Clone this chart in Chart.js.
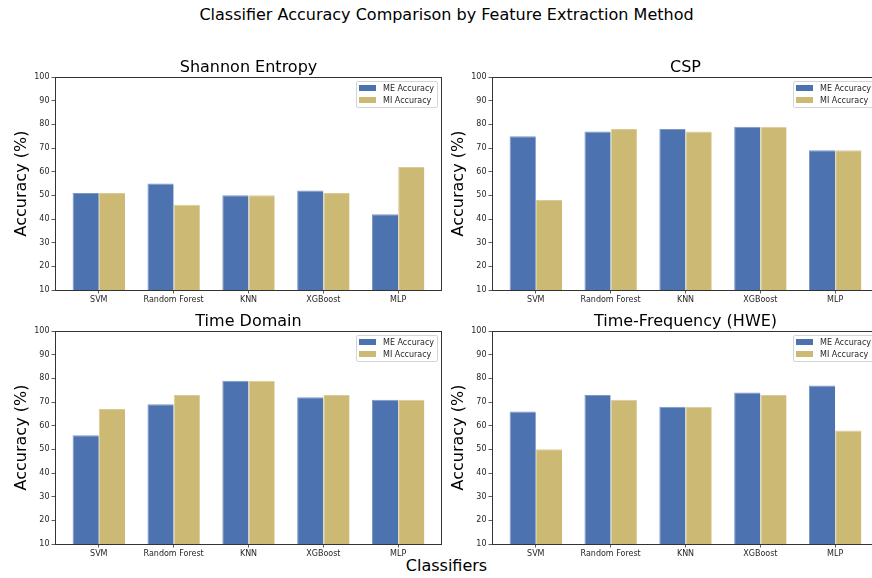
<!DOCTYPE html>
<html>
<head>
<meta charset="utf-8">
<script src="https://cdn.jsdelivr.net/npm/chart.js@4"></script>
<style>
  html, body { margin: 0; padding: 0; background: #fff; overflow: hidden; }
  body { width: 872px; height: 578px; position: relative; font-family: "DejaVu Sans", sans-serif; color: #000; }
  canvas { position: absolute; }
  .txt { position: absolute; text-align: center; font-size: 16px; line-height: 20px; white-space: nowrap; }
  .legend { position: absolute; width: 80px; height: 25px; border: 1px solid #d5d5d5; border-radius: 2px; background: rgba(255,255,255,0.8); font-size: 8px; }
  .legend .row { position: absolute; left: 2px; height: 10px; line-height: 10px; white-space: nowrap; color: #262626; }
  .legend .sw { display: inline-block; width: 17px; height: 6px; margin-right: 7px; vertical-align: middle; position: relative; top: -1px; }
</style>
</head>
<body>
<div class="txt" style="left:0; width:893px; top:5px;">Classifier Accuracy Comparison by Feature Extraction Method</div>
<div class="txt" style="left:0; width:893px; top:556px;">Classifiers</div>

<script>
// Classifiers compared in every panel
const classifiers = ['SVM', 'Random Forest', 'KNN', 'XGBoost', 'MLP'];

// Accuracy (%) for motor execution (ME) and motor imagery (MI)
const entropyME = [51, 55, 50, 52, 42];
const entropyMI = [51, 46, 50, 51, 62];

const cspME = [75, 77, 78, 79, 69];
const cspMI = [48, 78, 77, 79, 69];

const timeME = [56, 69, 79, 72, 71];
const timeMI = [67, 73, 79, 73, 71];

const hweME = [66, 73, 68, 74, 77];
const hweMI = [50, 71, 68, 73, 58];

const yTicks = [10, 20, 30, 40, 50, 60, 70, 80, 90, 100];

const seriesNames = ['ME Accuracy', 'MI Accuracy'];
const seriesColors = ['#4c72b0', '#ccb974'];
const edgeColors = ['#7d98c6', '#d9cb98'];

const panels = [
  { title: 'Shannon Entropy', me: entropyME, mi: entropyMI, left: 0, top: 60 },
  { title: 'CSP', me: cspME, mi: cspMI, left: 437, top: 60 },
  { title: 'Time Domain', me: timeME, mi: timeMI, left: 0, top: 314 },
  { title: 'Time-Frequency (HWE)', me: hweME, mi: hweMI, left: 437, top: 314 }
];

const AXIS_W = 55, PLOT_W = 387, PAD_TOP = 17, PLOT_H = 213, XAXIS_H = 22;
const tickFont = { family: 'DejaVu Sans', size: 8 };

// Full box around the plot area
const framePlugin = {
  id: 'frame',
  afterDraw(chart) {
    const a = chart.chartArea, ctx = chart.ctx;
    ctx.save();
    ctx.strokeStyle = '#333';
    ctx.lineWidth = 1;
    ctx.strokeRect(Math.round(a.left) + 0.5, Math.round(a.top) + 0.5,
                   Math.round(a.right - a.left) - 1, Math.round(a.bottom - a.top));
    ctx.restore();
  }
};

const toPoints = vals => vals.map((v, i) => ({ x: i, y: v }));

panels.forEach(p => {
  const cv = document.createElement('canvas');
  const w = AXIS_W + PLOT_W, h = PAD_TOP + PLOT_H + XAXIS_H;
  cv.width = w; cv.height = h;
  cv.style.left = p.left + 'px'; cv.style.top = p.top + 'px';
  cv.style.width = w + 'px'; cv.style.height = h + 'px';
  document.body.appendChild(cv);

  // panel title
  const t = document.createElement('div');
  t.className = 'txt';
  t.style.left = (p.left + AXIS_W) + 'px';
  t.style.width = PLOT_W + 'px';
  t.style.top = (p.top - 3) + 'px';
  t.textContent = p.title;
  document.body.appendChild(t);

  // legend in the upper right of the plot
  const lg = document.createElement('div');
  lg.className = 'legend';
  lg.style.left = (p.left + AXIS_W + PLOT_W - 86) + 'px';
  lg.style.top = (p.top + PAD_TOP + 4) + 'px';
  seriesNames.forEach((name, k) => {
    const r = document.createElement('div');
    r.className = 'row';
    r.style.top = (2 + k * 12.4) + 'px';
    const sw = document.createElement('span');
    sw.className = 'sw';
    sw.style.background = seriesColors[k];
    r.appendChild(sw);
    r.appendChild(document.createTextNode(name));
    lg.appendChild(r);
  });
  document.body.appendChild(lg);

  new Chart(cv, {
    type: 'bar',
    data: {
      datasets: [p.me, p.mi].map((vals, k) => ({
        label: seriesNames[k],
        data: toPoints(vals),
        backgroundColor: seriesColors[k],
        borderColor: edgeColors[k],
        borderWidth: { top: 1, left: 1, right: 0, bottom: 0 },
        borderSkipped: false,
        categoryPercentage: 0.7,
        barPercentage: 1.0
      }))
    },
    options: {
      responsive: false,
      animation: false,
      devicePixelRatio: 1,
      layout: { padding: { left: 0, right: 0, top: PAD_TOP, bottom: 0 } },
      plugins: { legend: { display: false }, tooltip: { enabled: false }, title: { display: false } },
      scales: {
        x: {
          type: 'linear',
          min: -0.585,
          max: 4.585,
          offset: false,
          grid: { offset: false, drawOnChartArea: false, color: '#333', tickLength: 3.5, tickWidth: 0.8 },
          border: { display: false },
          afterBuildTicks: s => { s.ticks = classifiers.map((_, i) => ({ value: i })); },
          afterFit: s => { s.height = XAXIS_H; },
          ticks: { font: tickFont, color: '#262626', padding: 2, maxRotation: 0, autoSkip: false,
                   callback: v => classifiers[v] }
        },
        y: {
          min: 10,
          max: 100,
          grid: { drawOnChartArea: false, color: '#333', tickLength: 3.5, tickWidth: 0.8 },
          border: { display: false },
          afterBuildTicks: s => { s.ticks = yTicks.map(v => ({ value: v })); },
          afterFit: s => { s.width = AXIS_W; },
          ticks: { font: tickFont, color: '#262626', padding: 2 },
          title: { display: true, text: 'Accuracy (%)', color: '#000',
                   font: { family: 'DejaVu Sans', size: 16 }, padding: { top: 12.5, bottom: 0 } }
        }
      }
    },
    plugins: [framePlugin]
  });
});
</script>
</body>
</html>
